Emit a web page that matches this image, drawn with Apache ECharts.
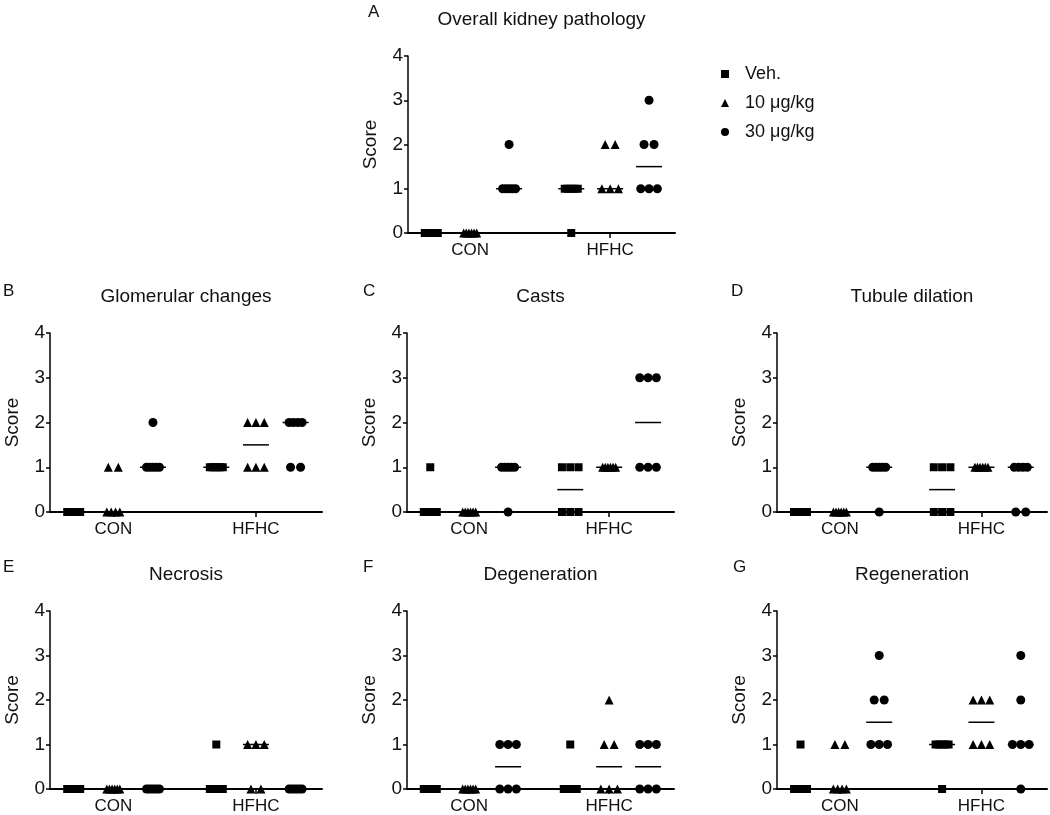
<!DOCTYPE html>
<html><head><meta charset="utf-8">
<script src="https://cdn.jsdelivr.net/npm/echarts@6/dist/echarts.min.js"></script>
<style>html,body{margin:0;padding:0;background:#fff}#c{width:1050px;height:815px}</style>
</head><body><div id="c"></div>
<script>
// ---- data (order: CON Veh, CON 10, CON 30, HFHC Veh, HFHC 10, HFHC 30) ----
const categories = ['CON', 'HFHC'];
const doses = ['Veh.', '10 μg/kg', '30 μg/kg'];
const yTicks = [0, 1, 2, 3, 4];
const panelLetters = ['A', 'B', 'C', 'D', 'E', 'F', 'G'];
const panelTitles = ['Overall kidney pathology', 'Glomerular changes', 'Casts', 'Tubule dilation', 'Necrosis', 'Degeneration', 'Regeneration'];

const overall = [[0,0,0,0,0,0],[0,0,0,0,0,0],[2,1,1,1,1,1],[1,1,1,1,1,0],[2,2,1,1,1],[3,2,2,1,1,1]];
const glomerular = [[0,0,0,0,0,0],[1,1,0,0,0,0],[2,1,1,1,1,1],[1,1,1,1,1,1],[2,2,2,1,1,1],[2,2,2,2,1,1]];
const casts = [[1,0,0,0,0,0],[0,0,0,0,0,0],[1,1,1,1,1,0],[1,1,1,0,0,0],[1,1,1,1,1,1],[3,3,3,1,1,1]];
const tubule = [[0,0,0,0,0,0],[0,0,0,0,0,0],[1,1,1,1,1,0],[1,1,1,0,0,0],[1,1,1,1,1,1],[1,1,1,1,0,0]];
const necrosis = [[0,0,0,0,0,0],[0,0,0,0,0,0],[0,0,0,0,0,0],[1,0,0,0,0,0],[1,1,1,0,0],[0,0,0,0,0,0]];
const degeneration = [[0,0,0,0,0,0],[0,0,0,0,0,0],[1,1,1,0,0,0],[1,0,0,0,0,0],[2,1,1,0,0,0],[1,1,1,0,0,0]];
const regeneration = [[1,0,0,0,0,0],[1,1,0,0,0,0],[3,2,2,1,1,1],[1,1,1,1,1,0],[2,2,2,1,1,1],[3,2,1,1,1,0]];

const panels = [overall, glomerular, casts, tubule, necrosis, degeneration, regeneration];

// ---- layout ----
const grids = [
  {left: 408, top: 56, width: 267, height: 177},
  {left: 50, top: 333, width: 272, height: 179},
  {left: 407, top: 333, width: 267, height: 179},
  {left: 777, top: 333, width: 270, height: 179},
  {left: 50, top: 611, width: 272, height: 179},
  {left: 407, top: 611, width: 267, height: 179},
  {left: 777, top: 611, width: 270, height: 179}
];
const titleY = [20, 297, 297, 297, 575, 575, 575];
const letterPos = [[368, 12], [3, 291], [363, 291], [731, 291], [3, 567], [363, 567], [733, 567]];
const XMAX = 7;
const groupCenters = [1.63, 5.3];
const subOffset = 1.02;
const symbols = ['rect', 'triangle', 'circle'];
const symbolSizes = [8, 9, 9];
const font = 'Liberation Sans, Arial, sans-serif';

function median(arr) {
  const s = arr.slice().sort((a, b) => a - b);
  const n = s.length;
  return n % 2 ? s[(n - 1) / 2] : (s[n / 2 - 1] + s[n / 2]) / 2;
}
function spreadPx(k, i) {
  let d;
  if (k === 1) return 0;
  if (k === 2) d = 10;
  else if (k === 3) d = 8.3;
  else d = 13 / (k - 1);
  return (i - (k - 1) / 2) * d;
}

const option = {
  animation: false,
  backgroundColor: '#fff',
  grid: [], xAxis: [], yAxis: [], series: [], graphic: [],
  legend: {
    orient: 'vertical', left: 716, top: 60, itemGap: 11, itemWidth: 8, itemHeight: 8,
    data: doses.map((d, i) => ({name: d, icon: symbols[i], itemStyle: {color: '#000', opacity: 1}})),
    textStyle: {fontFamily: font, fontSize: 18, color: '#111', padding: [0, 0, 0, 11]}
  }
};

panels.forEach((pdata, p) => {
  const g = grids[p];
  option.grid.push(Object.assign({containLabel: false}, g));
  const pxPerUnit = g.width / XMAX;
  option.xAxis.push({
    type: 'value', gridIndex: p, min: 0, max: XMAX,
    splitLine: {show: false},
    axisLine: {lineStyle: {color: '#000', width: 2}},
    axisTick: {show: true, length: 5, lineStyle: {color: '#000', width: 1.5}, customValues: groupCenters},
    axisLabel: {show: true, customValues: groupCenters, margin: 9, fontFamily: font, fontSize: 17, color: '#111',
      formatter: v => categories[groupCenters.findIndex(c => Math.abs(c - v) < 1e-6)] || ''}
  });
  option.yAxis.push({
    type: 'value', gridIndex: p, min: 0, max: 4, interval: 1,
    splitLine: {show: false},
    axisLine: {show: true, lineStyle: {color: '#000', width: 1.5}},
    axisTick: {show: true, length: 4, lineStyle: {color: '#000', width: 1.5}},
    axisLabel: {margin: 5, fontFamily: font, fontSize: 19, color: '#111', formatter: v => yTicks.includes(v) ? String(v) : ''},
    name: 'Score', nameLocation: 'middle', nameRotate: 90, nameGap: 28,
    nameTextStyle: {fontFamily: font, fontSize: 19, color: '#111'}
  });
  const medData = [];
  doses.forEach((dose, d) => {
    const pts = [];
    categories.forEach((cat, c) => {
      const vals = pdata[c * 3 + d];
      const center = groupCenters[c] + (d - 1) * subOffset;
      const counts = {};
      vals.forEach(v => { counts[v] = (counts[v] || 0) + 1; });
      const seen = {};
      vals.forEach(v => {
        const i = seen[v] = (seen[v] === undefined ? 0 : seen[v] + 1);
        pts.push([center + spreadPx(counts[v], i) / pxPerUnit, v]);
      });
      medData.push([center, median(vals), 13 / pxPerUnit]);
    });
    option.series.push({
      type: 'scatter', name: dose, xAxisIndex: p, yAxisIndex: p,
      symbol: symbols[d], symbolSize: symbolSizes[d],
      itemStyle: {color: '#000', opacity: 1}, data: pts, z: 3, clip: false
    });
  });
  option.series.push({
    type: 'custom', xAxisIndex: p, yAxisIndex: p, z: 4, data: medData, clip: false,
    renderItem: (params, api) => {
      const c = api.value(0), m = api.value(1), h = api.value(2);
      const a = api.coord([c - h, m]), b = api.coord([c + h, m]);
      return {type: 'line', shape: {x1: a[0], y1: a[1], x2: b[0], y2: b[1]}, style: {stroke: '#000', lineWidth: 1.5}};
    }
  });
  option.graphic.push({type: 'text', x: g.left + g.width / 2, y: titleY[p],
    style: {text: panelTitles[p], fontFamily: font, fontSize: 19, fill: '#111', align: 'center', verticalAlign: 'middle'}});
  option.graphic.push({type: 'text', x: letterPos[p][0], y: letterPos[p][1],
    style: {text: panelLetters[p], fontFamily: font, fontSize: 17, fill: '#111', align: 'left', verticalAlign: 'middle'}});
});

const chart = echarts.init(document.getElementById('c'), null, {renderer: 'canvas'});
chart.setOption(option);
</script></body></html>
